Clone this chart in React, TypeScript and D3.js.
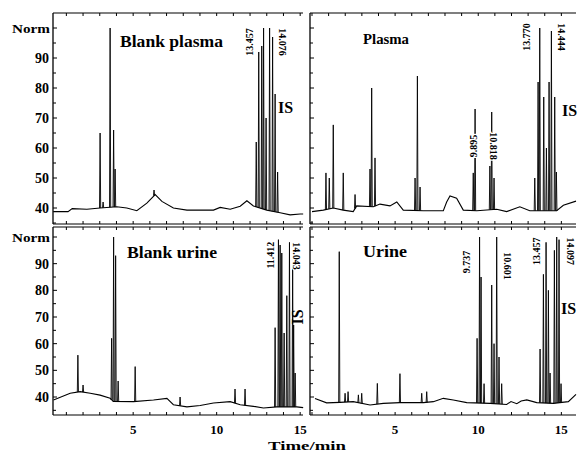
import React from "react";
import * as d3 from "d3";

type P = [number, number];

// ---- data (time/min, Norm) ----
const tlBase: P[] = [[0.21,38.8],[1.1,38.8],[1.35,39.8],[2.23,39.6],[3.02,40],[4.02,40.4],[4.62,40],[5.22,39.1],[5.82,41.6],[6.32,44.5],[6.72,42.2],[7.41,40],[8.22,39.3],[9.81,39.3],[10.21,40.2],[10.81,39.6],[11.41,40.6],[11.81,42.4],[12.2,40.7],[13.0,39.3],[13.8,38.4],[14.4,37.7],[15.0,38],[15.18,38]];
const tlPeaks: P[] = [[3.02,65],[3.2,42],[3.62,100],[3.83,66],[3.92,53],[6.25,46],[12.37,62],[12.52,92],[12.7,94],[12.81,100],[12.96,70],[13.17,100],[13.35,97],[13.5,78],[13.65,52]];

const trBase: P[] = [[0,38.8],[0.68,39.3],[1.28,40],[1.88,39.3],[2.48,38.8],[2.69,40.7],[3.69,40.4],[4.09,41.3],[4.69,40.7],[5.1,42],[5.49,39.3],[6.7,39.1],[7.9,39.1],[8.1,42],[8.3,44],[8.7,43.3],[9.1,39.3],[9.91,39.1],[11.11,39.6],[11.71,38.8],[12.5,40.4],[13.1,39.1],[14.72,39.1],[15.12,40.9],[15.88,42.3]];
const trPeaks: P[] = [[0.84,51.7],[1.04,50],[1.28,67.7],[1.88,51.7],[2.59,44.5],[3.49,53],[3.59,80],[3.79,56.7],[6.2,50],[6.34,84],[6.5,47],[9.7,51.7],[9.81,73],[10.7,54],[10.81,72],[10.95,50],[13.4,50],[13.6,82],[13.7,100],[13.94,77],[14.1,60],[14.26,82],[14.4,99],[14.6,77],[14.7,52]];

const blBase: P[] = [[0.23,38.9],[1.23,41.4],[1.83,42],[2.43,41.4],[3.02,40.7],[3.62,39.5],[3.82,38.3],[5.02,38.25],[6.22,38.9],[7.02,39.5],[7.41,37.1],[8.22,36.3],[9.01,36.8],[9.81,37.75],[10.81,38.25],[11.41,37.1],[12.2,36.5],[12.8,35.9],[13.6,36.3],[14.8,36.3],[15.18,36]];
const blPeaks: P[] = [[1.69,55.7],[2.0,44.5],[3.71,62],[3.83,100],[3.95,93],[4.1,46],[5.12,51.4],[7.81,40],[11.1,43],[11.7,43],[13.5,66],[13.7,99],[13.8,97],[13.9,94],[14.04,64],[14.2,78],[14.36,98],[14.55,90],[14.61,67],[14.7,49]];

const brBase: P[] = [[0.18,39.4],[0.88,37.8],[1.68,38],[2.48,38.25],[3.49,37],[4.29,37.6],[5.29,37.9],[6.7,37.9],[7.3,38.25],[7.9,39.5],[8.5,38.9],[9.31,37.9],[10.71,37.6],[11.71,37.2],[11.97,38.3],[12.32,37.5],[12.58,38.5],[12.92,38.9],[13.52,37.9],[14.52,37.6],[15.42,38.25],[15.88,41]];
const brPeaks: P[] = [[1.64,94.5],[1.99,41.4],[2.17,42],[2.79,40.8],[2.99,41.4],[3.93,45.1],[5.29,48.75],[6.6,41.4],[6.9,42],[9.93,62],[10.08,100],[10.17,85],[10.35,45],[10.81,82],[10.95,60],[11.11,100],[11.25,55],[11.41,45],[13.72,58],[13.92,86],[14.08,98],[14.22,80],[14.32,49],[14.58,95],[14.72,100],[14.86,99],[14.98,45]];

const yTickLabels = [40, 50, 60, 70, 80, 90];
const xTickLabels = [5, 10, 15];
const titles = ["Blank plasma", "Plasma", "Blank urine", "Urine"];
// peak annotations: [text, time, Norm]
const tlNotes: [string, number, number][] = [["13.457", 11.95, 95.3], ["14.076", 13.92, 95.3]];
const trNotes: [string, number, number][] = [["9.895", 9.69, 60.7], ["10.818", 10.89, 60.7], ["13.770", 12.88, 97], ["14.444", 14.98, 97]];
const blNotes: [string, number, number][] = [["11.412", 13.2, 93.2], ["14.043", 14.76, 92.9]];
const brNotes: [string, number, number][] = [["9.737", 9.27, 90.6], ["10.601", 11.73, 89.1], ["13.457", 13.48, 94.7], ["14.097", 15.52, 94.7]];

const FONT = "'Liberation Serif', 'DejaVu Serif', serif";

interface PanelCfg {
  xr: [number, number]; xd: [number, number];
  yr: [number, number]; yd: [number, number];
  base: P[]; peaks: P[]; notes: [string, number, number][];
  left: boolean; bottom: boolean;
  title: string; titlePos: [number, number]; titleSize: number; titleLen: number;
  is: { x: number; y: number; rot: number };
}

function Panel({ c }: { c: PanelCfg }) {
  const xs = d3.scaleLinear().domain(c.xd).range(c.xr);
  const ys = d3.scaleLinear().domain(c.yd).range(c.yr);
  const line = d3.line<P>().x(d => xs(d[0])).y(d => ys(d[1]));
  const baseAt = d3.scaleLinear().domain(c.base.map(d => d[0])).range(c.base.map(d => d[1])).clamp(true);
  const hw = 0.035;
  const [x0, x1] = c.xr;
  const [y1, y0] = c.yr; // y1 bottom, y0 top
  const xt = d3.range(Math.ceil(c.xd[0]), Math.floor(c.xd[1]) + 1);
  const yt = d3.range(Math.ceil(c.yd[0] / 5) * 5, c.yd[1], 5);
  return (
    <g>
      {/* axes */}
      <line x1={x0} x2={x0} y1={y0} y2={y1} stroke="#000" strokeWidth={1.3} />
      <line x1={x0} x2={x1} y1={y0} y2={y0} stroke="#000" strokeWidth={1.2} />
      <line x1={x0} x2={x1} y1={y1} y2={y1} stroke="#000" strokeWidth={1.2} />
      {xt.map(t => (
        <g key={"xt" + t}>
          <line x1={xs(t)} x2={xs(t)} y1={y0} y2={y0 + 3} stroke="#000" />
          <line x1={xs(t)} x2={xs(t)} y1={y1} y2={y1 - 3} stroke="#000" />
        </g>
      ))}
      {yt.map(v => (
        <line key={"yt" + v} x1={x0} x2={x0 + (v % 10 === 0 ? 4 : 3)} y1={ys(v)} y2={ys(v)} stroke="#000" />
      ))}
      {c.left && yTickLabels.map(v => (
        <text key={"yl" + v} x={x0 - 4} y={ys(v)} dy="0.35em" textAnchor="end" fontSize={14} fontWeight="bold" fontFamily={FONT}>{v}</text>
      ))}
      {c.left && (
        <text x={12} y={ys(100)} dy="0.35em" fontSize={13} fontWeight="bold" fontFamily={FONT} textLength={38} lengthAdjust="spacingAndGlyphs">Norm</text>
      )}
      {c.bottom && xTickLabels.map(v => (
        <text key={"xl" + v} x={xs(v)} y={y1 + 19} textAnchor="middle" fontSize={13} fontWeight="bold" fontFamily={FONT}>{v}</text>
      ))}
      {/* trace */}
      <path d={line(c.base) || ""} fill="none" stroke="#000" strokeWidth={1.1} />
      {c.peaks.map((p, i) => {
        const b = baseAt(p[0]);
        const pts: P[] = [[p[0] - hw, b], [p[0], p[1]], [p[0] + hw, b]];
        return <path key={"pk" + i} d={line(pts) || ""} fill="none" stroke="#000" strokeWidth={0.9} />;
      })}
      {/* annotations */}
      {c.notes.map((n, i) => (
        <text key={"nt" + i} transform={`translate(${xs(n[1])},${ys(n[2])}) rotate(${i % 2 === 0 ? -90 : 90})`}
          textAnchor="middle" dy="0.35em" fontSize={10} fontWeight="bold" fontFamily={FONT}
          stroke="#fff" strokeWidth={2.5} paintOrder="stroke" fill="#000">{n[0]}</text>
      ))}
      <text x={c.titlePos[0]} y={c.titlePos[1]} fontSize={c.titleSize} fontWeight="bold" fontFamily={FONT}
        textLength={c.titleLen} lengthAdjust="spacingAndGlyphs">{c.title}</text>
      <text transform={`translate(${c.is.x},${c.is.y}) rotate(${c.is.rot})`} dy="0.35em" textAnchor={c.is.rot ? "middle" : "start"}
        fontSize={16} fontWeight="bold" fontFamily={FONT}>IS</text>
    </g>
  );
}

export default function App() {
  const leftX: [number, number] = [53, 303];
  const leftD: [number, number] = [0.2, 15.17];
  const rightX: [number, number] = [310, 576];
  const rightD: [number, number] = [-0.12, 15.88];
  const topY: [number, number] = [224, 13];
  const topD: [number, number] = [34.67, 105];
  const botY: [number, number] = [415, 227];
  const botD: [number, number] = [33.25, 103.75];
  const panels: PanelCfg[] = [
    { xr: leftX, xd: leftD, yr: topY, yd: topD, base: tlBase, peaks: tlPeaks, notes: tlNotes, left: true, bottom: false,
      title: titles[0], titlePos: [120, 47], titleSize: 17, titleLen: 103, is: { x: 278, y: 107, rot: 0 } },
    { xr: rightX, xd: rightD, yr: topY, yd: topD, base: trBase, peaks: trPeaks, notes: trNotes, left: false, bottom: false,
      title: titles[1], titlePos: [363, 44], titleSize: 15, titleLen: 46, is: { x: 562, y: 110, rot: 0 } },
    { xr: leftX, xd: leftD, yr: botY, yd: botD, base: blBase, peaks: blPeaks, notes: blNotes, left: true, bottom: true,
      title: titles[2], titlePos: [127, 258], titleSize: 17, titleLen: 90, is: { x: 297, y: 317, rot: -90 } },
    { xr: rightX, xd: rightD, yr: botY, yd: botD, base: brBase, peaks: brPeaks, notes: brNotes, left: false, bottom: true,
      title: titles[3], titlePos: [363, 257], titleSize: 17, titleLen: 44, is: { x: 561, y: 308, rot: 0 } },
  ];
  return (
    <svg width={578} height={453} style={{ position: "absolute", left: 0, top: 0, background: "#fff" }}>
      <rect width={578} height={453} fill="#fff" />
      {panels.map((p, i) => <Panel key={i} c={p} />)}
      <text x={307} y={450} textAnchor="middle" fontSize={13} fontWeight="bold" fontFamily={FONT}
        textLength={78} lengthAdjust="spacingAndGlyphs">Time/min</text>
    </svg>
  );
}
